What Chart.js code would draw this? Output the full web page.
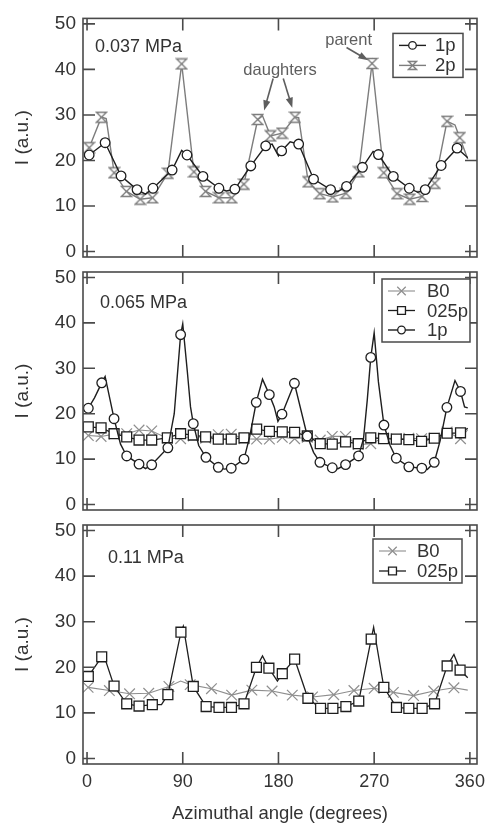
<!DOCTYPE html>
<html>
<head>
<meta charset="utf-8">
<script src="https://cdn.jsdelivr.net/npm/chart.js@4.4.1/dist/chart.umd.min.js"></script>
<style>
  html, body { margin: 0; padding: 0; background: #fff; overflow: hidden; }
  #figure { position: relative; width: 487px; height: 825px; overflow: hidden; }
  #figure canvas { position: absolute; left: 0; }
</style>
</head>
<body>
<div id="figure">
  <canvas id="panelA" width="520" height="280" style="top:0px"></canvas>
  <canvas id="panelB" width="520" height="280" style="top:250px"></canvas>
  <canvas id="panelC" width="520" height="320" style="top:505px"></canvas>
</div>
<script>
// ---- axis ticks ----
const angleTicks = [0, 90, 180, 270, 360];
const intensityTicks = [0, 10, 20, 30, 40, 50];

// ---- 0.037 MPa ----
const a1p_angle = [2, 17, 32, 47, 62, 80, 94, 109, 124, 139, 154, 168, 183, 199, 213, 229, 244, 259, 274, 288, 303, 318, 333, 348];
const a1p_value = [21.2, 23.9, 16.6, 13.6, 13.9, 17.9, 21.2, 16.5, 13.9, 13.7, 18.8, 23.2, 22.1, 23.6, 15.9, 13.6, 14.3, 18.5, 21.3, 16.5, 13.9, 13.6, 18.9, 22.7];
const a1p_traceAngle = [0, 55, 89, 131, 174, 180, 191, 236, 269, 311, 358];
const a1p_traceValue = [21.0, 12.6, 22.2, 13.3, 23.6, 21.0, 24.1, 13.2, 22.0, 13.0, 20.6];

const a2p_angle = [2, 13.5, 25.5, 37, 50, 61.5, 76, 89, 100.5, 111.5, 124, 136, 147.5, 160.5, 172.5, 183.5, 195.5, 208, 219, 231, 243.5, 255.5, 268, 279, 291.5, 303.5, 315, 327, 338.5, 350.5];
const a2p_value = [22.8, 29.5, 17.3, 13.2, 11.5, 11.8, 17.2, 41.2, 17.5, 13.2, 11.8, 11.8, 14.8, 29.0, 25.4, 26.0, 29.5, 15.3, 12.7, 12.0, 12.8, 17.5, 41.3, 17.3, 12.7, 11.5, 12.1, 15.0, 28.6, 25.0];
const a2p_traceAngle = [0, 18, 165, 199, 346, 358];
const a2p_traceValue = [21.8, 29.2, 29.8, 29.4, 27.8, 20.3];

// ---- 0.065 MPa ----
const b1p_angle = [1.2, 13.8, 25.4, 37.3, 48.9, 60.8, 76, 88, 99.9, 111.8, 123.4, 135.6, 147.6, 159.1, 171.4, 183.3, 195, 207.1, 219, 230.6, 243.1, 255.3, 266.8, 279.2, 290.8, 302.6, 314.8, 326.5, 338.4, 351.2];
const b1p_value = [21.2, 26.8, 18.9, 10.7, 8.9, 8.75, 12.5, 37.4, 17.8, 10.4, 8.2, 8.0, 10.0, 22.5, 24.2, 19.9, 26.7, 15.1, 9.3, 8.1, 8.8, 10.7, 32.4, 17.5, 10.2, 8.3, 8.0, 9.3, 21.4, 24.9];
const b1p_traceAngle = [0, 7, 17, 31.5, 55, 82, 90, 94.3, 97.3, 105, 129, 153, 165, 176, 179.5, 213, 236, 260, 263.5, 270, 274, 285, 320, 332, 346, 355, 358];
const b1p_traceValue = [20.5, 23.5, 28.2, 13.3, 7.9, 20.0, 39.8, 29.3, 21.5, 13.0, 7.8, 15.0, 27.6, 21.5, 18.3, 11.5, 7.9, 14.5, 23.0, 37.8, 27.0, 13.0, 7.7, 14.0, 27.3, 21.5, 21.3];

const b025p_angle = [1.2, 13.2, 25.4, 37.3, 48.9, 60.8, 75.5, 88, 99.9, 111.5, 123.4, 135.6, 147.6, 159.5, 171.5, 183.6, 195.2, 207.1, 219.3, 230.6, 243.1, 255, 266.8, 278.8, 290.8, 302.6, 314.6, 326.5, 338.6, 351.2];
const b025p_value = [17.1, 16.9, 15.6, 14.9, 14.2, 14.2, 14.7, 15.6, 15.3, 14.9, 14.4, 14.4, 14.7, 16.6, 16.1, 16.0, 15.9, 15.1, 13.4, 13.3, 13.8, 13.4, 14.7, 14.5, 14.4, 14.3, 13.9, 14.6, 15.7, 15.8];
const b025p_traceAngle = [358];
const b025p_traceValue = [16.8];

const bB0_angle = [1.2, 13.2, 25.4, 37.3, 48.9, 60.8, 75.5, 88, 99.9, 111.5, 123.4, 135.6, 147.6, 159.5, 171.5, 183.6, 195.2, 207.1, 219.3, 230.6, 243.1, 255, 266.8, 278.8, 290.8, 302.6, 314.6, 326.5, 338.6, 351.2];
const bB0_value = [15.2, 15.0, 15.5, 15.6, 16.4, 16.2, 14.6, 14.5, 15.1, 14.6, 15.4, 15.5, 14.5, 14.4, 14.4, 14.8, 14.5, 14.8, 14.2, 15.0, 15.0, 13.2, 13.4, 14.7, 14.5, 14.6, 14.5, 14.6, 16.0, 14.5];
const bB0_traceAngle = [358];
const bB0_traceValue = [16.5];

// ---- 0.11 MPa ----
const c025p_angle = [1.2, 13.8, 25.4, 37.3, 48.9, 61.4, 76, 88.3, 99.9, 112, 124.1, 135.8, 147.6, 159.3, 171, 183.6, 195.2, 207.7, 219.6, 231.2, 243.4, 255.5, 267.2, 279.1, 291, 302.6, 315.1, 326.8, 338.6, 350.8];
const c025p_value = [18.0, 22.3, 15.9, 12.0, 11.5, 11.8, 14.0, 27.7, 15.8, 11.4, 11.2, 11.2, 12.0, 20.0, 19.8, 18.6, 21.8, 13.2, 11.0, 11.0, 11.4, 12.6, 26.2, 15.6, 11.2, 11.0, 11.0, 12.0, 20.3, 19.4];
const c025p_traceAngle = [17, 70, 90.5, 165, 179, 269.5, 345, 358];
const c025p_traceValue = [21.8, 11.8, 29.0, 22.5, 17.0, 28.8, 22.8, 17.7];

const cB0_angle = [1, 21, 40, 58, 77, 97, 117, 136, 155, 174, 193, 212, 232, 251, 270, 288, 307, 326, 345];
const cB0_value = [15.6, 14.9, 14.2, 14.3, 15.8, 16.2, 15.3, 13.9, 15.0, 14.8, 13.9, 13.5, 14.0, 14.9, 15.4, 14.5, 13.8, 14.8, 15.5];
const cB0_traceAngle = [88, 358];
const cB0_traceValue = [17.0, 15.0];

// ---- shared look ----
const FONT = '"Liberation Sans", Arial, Helvetica, sans-serif';
const INK = '#333333';
const FRAME = '#4a4a4a';
const TICK_LEN = 12;
Chart.defaults.font.family = FONT;
Chart.defaults.color = INK;

// hourglass marker (two triangles tip to tip)
function hourglass(size, color) {
  const c = document.createElement('canvas');
  c.width = size + 3; c.height = size + 3;
  const g = c.getContext('2d');
  const o = 1.5;
  g.lineWidth = 1.3; g.strokeStyle = color; g.fillStyle = '#fff';
  g.beginPath();
  g.moveTo(o, o); g.lineTo(o + size, o); g.lineTo(o, o + size); g.lineTo(o + size, o + size); g.closePath();
  g.fill(); g.stroke();
  return c;
}

// merge marked samples with the unmarked samples of the same curve
function curve(markAngle, markValue, traceAngle, traceValue) {
  const pts = markAngle.map((a, i) => ({ x: a, y: markValue[i], m: true }));
  traceAngle.forEach((a, i) => pts.push({ x: a, y: traceValue[i], m: false }));
  return pts.sort((p, q) => p.x - q.x);
}

function series(label, data, st) {
  return {
    label, data,
    borderColor: st.color, borderWidth: st.lineWidth,
    pointStyle: st.marker,
    pointRadius: c => (c.raw && c.raw.m ? st.radius : 0),
    pointBorderColor: st.color, pointBackgroundColor: '#fff', pointBorderWidth: st.markerWidth,
    order: st.order, tension: 0, fill: false,
    legendMarker: st.legendMarker || st.marker, legendRadius: st.legendRadius
  };
}

const GRAY = '#7d7d7d', LIGHT = '#8e8e8e', DARK = '#1e1e1e';
const style1p = (order) => ({ color: DARK, lineWidth: 1.4, marker: 'circle', radius: 4.8, markerWidth: 1.3, legendRadius: 3.8, order });
const style2p = (order) => ({ color: GRAY, lineWidth: 1.4, marker: hourglass(10, GRAY), radius: 5, markerWidth: 1.3, legendMarker: hourglass(8, GRAY), legendRadius: 4, order });
const style025p = (order) => ({ color: DARK, lineWidth: 1.3, marker: 'rect', radius: 7, markerWidth: 1.3, legendRadius: 5.6, order });
const styleB0 = (order) => ({ color: LIGHT, lineWidth: 1.1, marker: 'crossRot', radius: 7.5, markerWidth: 1.2, legendRadius: 6, order });

// frame, inward ticks, pressure tag, legend box and arrows
const decor = {
  id: 'decor',
  afterDraw(chart, args, o) {
    const { ctx, chartArea: a, scales: { x, y } } = chart;
    ctx.save();
    ctx.strokeStyle = FRAME; ctx.lineWidth = 1.6;
    ctx.strokeRect(a.left, a.top, a.right - a.left, a.bottom - a.top);
    ctx.beginPath();
    angleTicks.forEach(v => {
      const px = x.getPixelForValue(v);
      ctx.moveTo(px, a.bottom); ctx.lineTo(px, a.bottom - TICK_LEN);
      ctx.moveTo(px, a.top); ctx.lineTo(px, a.top + TICK_LEN);
    });
    intensityTicks.forEach(v => {
      const py = y.getPixelForValue(v);
      ctx.moveTo(a.left, py); ctx.lineTo(a.left + TICK_LEN, py);
      ctx.moveTo(a.right, py); ctx.lineTo(a.right - TICK_LEN, py);
    });
    ctx.stroke();

    // pressure tag
    ctx.fillStyle = INK;
    ctx.font = '18px ' + FONT;
    ctx.textAlign = 'left'; ctx.textBaseline = 'alphabetic';
    ctx.fillText(o.tag, a.left + o.tagDx, a.top + o.tagDy);

    // notes with arrows
    (o.notes || []).forEach(n => {
      ctx.fillStyle = '#5e5e5e';
      ctx.font = '16.5px ' + FONT;
      ctx.textAlign = 'center';
      ctx.fillText(n.text, x.getPixelForValue(n.at[0]), y.getPixelForValue(n.at[1]));
      n.arrows.forEach(([from, to]) => {
        const x0 = x.getPixelForValue(from[0]), y0 = y.getPixelForValue(from[1]);
        const x1 = x.getPixelForValue(to[0]), y1 = y.getPixelForValue(to[1]);
        const ang = Math.atan2(y1 - y0, x1 - x0);
        const hl = 10, hw = 3.6;
        ctx.strokeStyle = '#5e5e5e'; ctx.lineWidth = 1.6;
        ctx.beginPath(); ctx.moveTo(x0, y0);
        ctx.lineTo(x1 - Math.cos(ang) * hl * 0.8, y1 - Math.sin(ang) * hl * 0.8); ctx.stroke();
        ctx.beginPath();
        ctx.moveTo(x1, y1);
        ctx.lineTo(x1 - Math.cos(ang) * hl - Math.sin(ang) * hw, y1 - Math.sin(ang) * hl + Math.cos(ang) * hw);
        ctx.lineTo(x1 - Math.cos(ang) * hl + Math.sin(ang) * hw, y1 - Math.sin(ang) * hl - Math.cos(ang) * hw);
        ctx.closePath(); ctx.fill();
      });
    });

    // legend box
    const lg = o.legend;
    const sets = chart.data.datasets;
    const bx = a.right - lg.right - lg.width, by = a.top + lg.top;
    const bh = 24 + lg.row * (sets.length - 1);
    ctx.fillStyle = '#fff';
    ctx.fillRect(bx, by, lg.width, bh);
    ctx.strokeStyle = FRAME; ctx.lineWidth = 1.5;
    ctx.strokeRect(bx, by, lg.width, bh);
    sets.forEach((ds, i) => {
      const cy = by + 12 + lg.row * i;
      ctx.strokeStyle = ds.borderColor; ctx.lineWidth = ds.borderWidth;
      ctx.beginPath(); ctx.moveTo(bx + 6, cy); ctx.lineTo(bx + 33, cy); ctx.stroke();
      ctx.fillStyle = '#fff'; ctx.lineWidth = ds.pointBorderWidth;
      Chart.helpers.drawPoint(ctx, { pointStyle: ds.legendMarker, radius: ds.legendRadius, rotation: 0, borderWidth: ds.pointBorderWidth }, bx + 19.5, cy);
      ctx.fillStyle = INK; ctx.font = '18.5px ' + FONT;
      ctx.textAlign = 'left'; ctx.textBaseline = 'middle';
      ctx.fillText(ds.label, bx + lg.textDx, cy + 1);
      ctx.textBaseline = 'alphabetic';
    });
    ctx.restore();
  }
};

function panel(id, datasets, cfg) {
  return new Chart(document.getElementById(id), {
    type: 'line',
    data: { datasets },
    options: {
      responsive: false, animation: false, events: [],
      layout: { padding: cfg.padding },
      plugins: { legend: { display: false }, tooltip: { enabled: false }, decor: cfg.decor },
      scales: {
        x: {
          type: 'linear', min: -3.8, max: 366.7, display: cfg.showAngle,
          grid: { display: false, drawTicks: false }, border: { display: false },
          ticks: { stepSize: 90, includeBounds: false, padding: 7, font: { size: 18 }, color: INK, maxRotation: 0 },
          title: { display: cfg.showAngle, text: 'Azimuthal angle (degrees)', font: { size: 18.5 }, color: INK, padding: { top: 0, bottom: 0 } },
          afterFit: s => { if (cfg.showAngle) s.height = 61; }
        },
        y: {
          type: 'linear', min: -1.2, max: 51.2,
          grid: { display: false, drawTicks: false }, border: { display: false },
          ticks: { stepSize: 10, includeBounds: false, padding: 7, font: { size: 19 }, color: INK },
          title: { display: true, text: 'I (a.u.)', font: { size: 19 }, color: INK, padding: { top: 11, bottom: 0 } },
          afterFit: s => { s.width = 83; }
        }
      }
    },
    plugins: [decor]
  });
}

panel('panelA', [
  series('1p', curve(a1p_angle, a1p_value, a1p_traceAngle, a1p_traceValue), style1p(0)),
  series('2p', curve(a2p_angle, a2p_value, a2p_traceAngle, a2p_traceValue), style2p(1))
], {
  padding: { top: 18, right: 43, bottom: 23, left: 0 }, showAngle: false,
  decor: {
    tag: '0.037 MPa', tagDx: 12, tagDy: 34,
    legend: { right: 14, top: 15, width: 70, row: 20, textDx: 42 },
    notes: [
      { text: 'daughters', at: [181.5, 38.7], arrows: [[[175, 38.0], [166.5, 31.0]], [[184.5, 38.0], [193, 31.6]]] },
      { text: 'parent', at: [246, 45.4], arrows: [[[244, 44.8], [264.5, 42.0]]] }
    ]
  }
});

panel('panelB', [
  series('B0', curve(bB0_angle, bB0_value, bB0_traceAngle, bB0_traceValue), styleB0(2)),
  series('025p', curve(b025p_angle, b025p_value, b025p_traceAngle, b025p_traceValue), style025p(1)),
  series('1p', curve(b1p_angle, b1p_value, b1p_traceAngle, b1p_traceValue), style1p(0))
], {
  padding: { top: 22, right: 43, bottom: 20, left: 0 }, showAngle: false,
  decor: {
    tag: '0.065 MPa', tagDx: 17, tagDy: 36,
    legend: { right: 7, top: 7, width: 88, row: 19.5, textDx: 45 }
  }
});

panel('panelC', [
  series('B0', curve(cB0_angle, cB0_value, cB0_traceAngle, cB0_traceValue), styleB0(1)),
  series('025p', curve(c025p_angle, c025p_value, c025p_traceAngle, c025p_traceValue), style025p(0))
], {
  padding: { top: 20, right: 43, bottom: 0, left: 0 }, showAngle: true,
  decor: {
    tag: '0.11 MPa', tagDx: 25, tagDy: 38,
    legend: { right: 15, top: 14, width: 89, row: 20, textDx: 44 }
  }
});
</script>
</body>
</html>
